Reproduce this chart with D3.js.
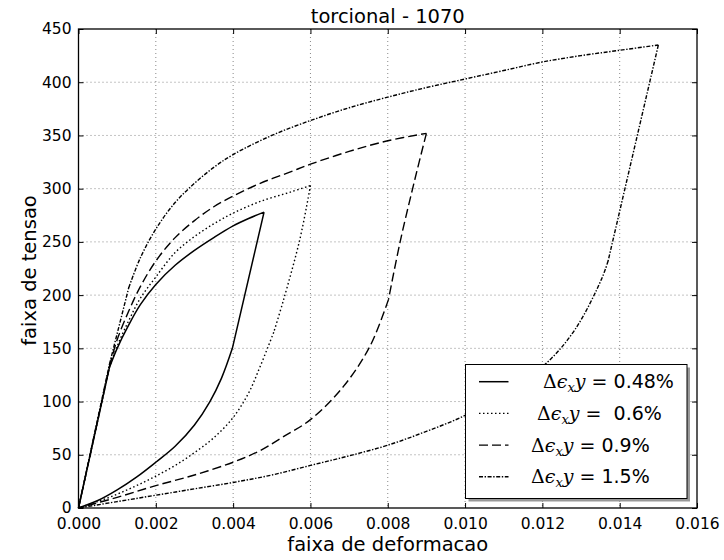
<!DOCTYPE html>
<html>
<head>
<meta charset="utf-8">
<script src="https://cdn.jsdelivr.net/npm/d3@7"></script>
<style>
body { margin: 0; background: #fff; }
text { font-family: "DejaVu Sans", sans-serif; fill: #000; }
</style>
</head>
<body>
<div id="chart"></div>
<script>
// loops: loading branch up to the peak, then unloading back to 0
const strain048 = [0, 0.0008, 0.001, 0.0013, 0.0016, 0.002, 0.0025, 0.003, 0.0035, 0.004, 0.0044, 0.0048,
    0.00398, 0.0037, 0.0034, 0.003, 0.0025, 0.002, 0.0015, 0.001, 0.0005, 0];
const stress048 = [0, 132, 150, 172, 191, 210, 228, 242, 254, 265, 272, 278,
    150, 122, 100, 78, 58, 43, 29, 17, 7, 0];

const strain06 = [0, 0.0008, 0.001, 0.0013, 0.0016, 0.002, 0.0025, 0.003, 0.0035, 0.004, 0.0047, 0.0055, 0.006,
    0.00573, 0.0053, 0.00505, 0.0047, 0.0044, 0.004, 0.0035, 0.003, 0.0025, 0.002, 0.0015, 0.001, 0.0005, 0];
const stress06 = [0, 132, 152, 176, 197, 217, 240, 255, 267, 277, 288, 297, 303,
    253, 195, 165, 133, 108, 85, 66, 52, 40, 30, 21, 13, 6, 0];

const strain09 = [0, 0.0008, 0.001, 0.0013, 0.0016, 0.002, 0.0025, 0.003, 0.0035, 0.004, 0.0047, 0.0055, 0.006, 0.007, 0.008, 0.009,
    0.00871, 0.00832, 0.00802, 0.00754, 0.00685, 0.006, 0.0053, 0.0047, 0.004, 0.003, 0.002, 0.001, 0];
const stress09 = [0, 133, 158, 185, 208, 232, 254, 270, 283, 293, 305, 316, 323, 335, 345, 352,
    310, 250, 196, 152, 114, 83, 67, 54, 43, 31, 21, 10, 0];

const strain15 = [0, 0.0008, 0.0013, 0.0016, 0.002, 0.0025, 0.003, 0.0035, 0.004, 0.005, 0.006, 0.007, 0.008, 0.009, 0.010, 0.011, 0.012, 0.013, 0.014, 0.015,
    0.0137, 0.01353, 0.01285, 0.0121, 0.011, 0.010, 0.009, 0.008, 0.007, 0.006, 0.005, 0.004, 0.003, 0.002, 0.001, 0];
const stress15 = [0, 135, 207, 235, 262, 287, 305, 320, 332, 350, 364, 376, 386, 395, 403, 411, 419, 425, 430, 435,
    232, 215, 168, 136, 108, 87, 72, 59, 49, 40, 31, 24, 18, 12, 6, 0];

// indices of the sharp corners in each loop (curve is smooth between them)
const kinks048 = [0, 1, 11, 12, 21];
const kinks06 = [0, 1, 12, 15, 26];
const kinks09 = [0, 1, 15, 18, 28];
const kinks15 = [0, 1, 2, 19, 20, 35];

const legendLabels = ["  Δϵxy = 0.48%", " Δϵxy =  0.6%", "Δϵxy = 0.9%", "Δϵxy = 1.5%"];
const xTicks = [0, 0.002, 0.004, 0.006, 0.008, 0.010, 0.012, 0.014, 0.016];
const yTicks = [0, 50, 100, 150, 200, 250, 300, 350, 400, 450];

const strains = [strain048, strain06, strain09, strain15];
const stresses = [stress048, stress06, stress09, stress15];
const kinks = [kinks048, kinks06, kinks09, kinks15];
const dashes = [null, "1.5,2.5", "9,4", "4,1.6,1.4,1.6"];

// graph size
const W = 724, H = 560;
const margin = {top: 29, right: 27, bottom: 52, left: 78.5};
const width = W - margin.left - margin.right,
      height = H - margin.top - margin.bottom;

const svg = d3.select("#chart").append("svg")
    .attr("width", W)
    .attr("height", H);

const g = svg.append("g")
    .attr("transform", "translate(" + margin.left + "," + margin.top + ")");

const x = d3.scaleLinear().domain([0, 0.016]).range([0, width]);
const y = d3.scaleLinear().domain([0, 450]).range([height, 0]);

// grid
g.append("g").selectAll("line")
    .data(xTicks.slice(1, -1))
    .enter().append("line")
    .attr("x1", d => x(d)).attr("x2", d => x(d))
    .attr("y1", 0).attr("y2", height)
    .attr("stroke", "#888").attr("stroke-width", 1).attr("stroke-dasharray", "1,3");
g.append("g").selectAll("line")
    .data(yTicks.slice(1, -1))
    .enter().append("line")
    .attr("y1", d => y(d)).attr("y2", d => y(d))
    .attr("x1", 0).attr("x2", width)
    .attr("stroke", "#888").attr("stroke-width", 1).attr("stroke-dasharray", "1,3");

// axes, ticks pointing in
const fmt = d3.format(".3f");
const xAxis = g.append("g")
    .attr("transform", "translate(0," + height + ")")
    .call(d3.axisBottom(x).tickValues(xTicks).tickFormat(fmt).tickSizeInner(-5).tickSizeOuter(0).tickPadding(10));
const yAxis = g.append("g")
    .call(d3.axisLeft(y).tickValues(yTicks).tickSizeInner(-5).tickSizeOuter(0).tickPadding(7));
g.append("g")
    .call(d3.axisTop(x).tickValues(xTicks).tickFormat("").tickSizeInner(-5).tickSizeOuter(0));
g.append("g")
    .attr("transform", "translate(" + width + ",0)")
    .call(d3.axisRight(y).tickValues(yTicks).tickFormat("").tickSizeInner(-5).tickSizeOuter(0));

g.selectAll(".domain").remove();
g.selectAll(".tick line").attr("stroke", "#000");
g.selectAll(".tick text")
    .style("font-family", "DejaVu Sans")
    .style("font-size", "15.5px")
    .attr("fill", "#000");
yAxis.selectAll(".tick text").attr("dy", "0.32em");

// the curves, smooth between the corners
const line = d3.line()
    .x(d => x(d[0]))
    .y(d => y(d[1]))
    .curve(d3.curveCatmullRom.alpha(0.5));

strains.forEach((s, i) => {
    let pts = s.map((v, j) => [v, stresses[i][j]]);
    let k = kinks[i];
    let d = "";
    for (let p = 0; p < k.length - 1; p++) {
        d += line(pts.slice(k[p], k[p + 1] + 1));
    }
    g.append("path")
        .attr("d", d)
        .attr("fill", "none")
        .attr("stroke", "#000")
        .attr("stroke-width", i == 0 ? 1.5 : 1.4)
        .attr("stroke-linejoin", "round")
        .attr("stroke-dasharray", dashes[i]);
});

// frame
g.append("rect")
    .attr("width", width).attr("height", height)
    .attr("fill", "none").attr("stroke", "#000").attr("stroke-width", 1.3);

// title and axis labels
svg.append("text")
    .attr("x", margin.left + width / 2).attr("y", 22.5)
    .attr("text-anchor", "middle")
    .style("font-size", "19.5px")
    .text("torcional - 1070");
svg.append("text")
    .attr("x", margin.left + width / 2).attr("y", 551)
    .attr("text-anchor", "middle")
    .style("font-size", "19.5px")
    .text("faixa de deformacao");
svg.append("text")
    .attr("transform", "translate(36," + (margin.top + height / 2 + 2) + ") rotate(-90)")
    .attr("text-anchor", "middle")
    .style("font-size", "19.5px")
    .text("faixa de tensao");

// legend with shadow
const lg = svg.append("g").attr("transform", "translate(465.5,364.5)");
lg.append("rect")
    .attr("x", 3).attr("y", 3).attr("width", 221.5).attr("height", 134)
    .attr("fill", "#999");
lg.append("rect")
    .attr("width", 221.5).attr("height", 134)
    .attr("fill", "#fff").attr("stroke", "#000").attr("stroke-width", 1);

legendLabels.forEach((lab, i) => {
    let cy = 17.2 + i * 31.7;
    lg.append("line")
        .attr("x1", 13.5).attr("x2", 43)
        .attr("y1", cy).attr("y2", cy)
        .attr("stroke", "#000")
        .attr("stroke-width", i == 0 ? 1.5 : 1.4)
        .attr("stroke-dasharray", dashes[i]);

    let lead = lab.match(/^ */)[0];
    let rest = lab.slice(lead.length + "Δϵxy".length);
    let t = lg.append("text")
        .attr("x", 65.5).attr("y", cy + 6.6)
        .attr("xml:space", "preserve")
        .style("white-space", "pre")
        .style("font-size", "19px");
    t.append("tspan").text(lead);
    t.append("tspan").style("font-family", "DejaVu Serif").text("Δ");
    t.append("tspan").style("font-family", "DejaVu Serif").style("font-style", "italic").text("ϵ");
    t.append("tspan").style("font-family", "DejaVu Serif").style("font-style", "italic")
        .style("font-size", "13px").attr("dy", 4).text("x");
    t.append("tspan").style("font-family", "DejaVu Serif").style("font-style", "italic")
        .attr("dy", -4).text("y");
    t.append("tspan").text(rest);
});
</script>
</body>
</html>
